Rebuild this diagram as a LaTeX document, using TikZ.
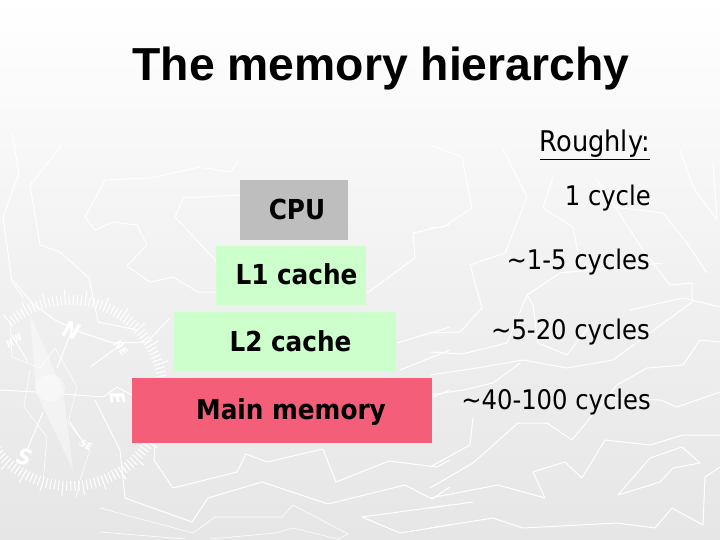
\documentclass[tikz,border=0pt]{standalone}
\usepackage{fontspec}
\setmainfont{DejaVu Sans Condensed}
\newfontfamily\titlefont{Liberation Sans}
\usetikzlibrary{calc,positioning}
\definecolor{cpugray}{HTML}{BEBEBE}
\definecolor{cachegreen}{HTML}{CCFFCC}
\definecolor{memred}{HTML}{F45E78}
\definecolor{bgbottom}{HTML}{E6E6E6}
\tikzset{
    level/.style={draw=none, minimum height=59pt, inner sep=0pt},
    levellabel/.style={font=\fontsize{27.5}{30}\bfseries, inner sep=0pt},
    timelabel/.style={font=\fontsize{27}{30}\selectfont, anchor=east, inner sep=0pt},
    wmline/.style={draw=white, line width=1pt, line join=round},
    wmtick/.style={draw=white, line width=1.1pt},
    wmtext/.style={text=white, font=\fontsize{#1}{#1}\bfseries\itshape, inner sep=0pt},
}
\begin{document}
\begin{tikzpicture}[x=1pt,y=-1pt]
        \useasboundingbox (0,0) rectangle (720,540);
        \shade[top color=white, bottom color=bgbottom, middle color=white!45!bgbottom] (0,0) rectangle (720,540);
        % background lines, left
        \draw[wmline] (12,133) -- (19,173) -- (3,217) -- (12,282) -- (23,297);
        \draw[wmline] (62,145) -- (30,185) -- (40,245) -- (60,252) -- (89,278) -- (98,322) -- (137,330);
        \draw[wmline] (240,160) -- (230,172) -- (200,167) -- (150,178) -- (105,180) -- (85,217) -- (95,230) -- (113,222) -- (137,225) -- (147,245) -- (127,266) -- (150,282) -- (173,277) -- (198,292) -- (217,292);
        \draw[wmline] (240,195) -- (183,198) -- (175,217) -- (217,262);
        \draw[wmline] (13,280) -- (32,303) -- (55,320) -- (80,332) -- (113,343) -- (147,342) -- (170,318);
        \draw[wmline, line width=.6pt] (10,320) -- (12,357) -- (40,368) -- (55,348) -- (77,387) -- (68,423) -- (90,450) -- (80,480) -- (76,498);
        \draw[wmline, line width=.6pt] (30,370) -- (24,407) -- (47,437) -- (43,483);
        \draw[wmline] (0,390) -- (35,392) (63,394) -- (103,397) -- (117,387) -- (132,395);
        \draw[wmline] (95,400) -- (120,450) -- (125,498) -- (192,522) -- (208,498) -- (262,482) -- (328,504) -- (405,485) -- (432,499) -- (450,487);
        \draw[wmline] (155,445) -- (154,460) -- (173,488) -- (237,472) -- (246,454) -- (267,462) -- (323,449) -- (336,482) -- (389,461) -- (437,467) -- (450,460);
        \draw[wmline, line width=.6pt] (100,508) -- (193,533) -- (215,517) -- (282,517) -- (293,505) -- (348,534) -- (337,540);
        \draw[wmline, line width=.6pt] (100,532) -- (185,539) (210,539) -- (275,533) -- (293,528) -- (337,539);
        \draw[wmline] (450,505) -- (362,517) -- (400,533) -- (450,525);
        % background lines, right
        \draw[wmline] (430,228) -- (443,227) -- (472,208) -- (462,157) -- (430,145);
        \draw[wmline] (502,147) -- (527,197) -- (505,253) -- (470,265) -- (482,308) -- (460,332) -- (430,333);
        \draw[wmline] (553,177) -- (543,208) -- (573,227) -- (580,262);
        \draw[wmline] (430,352) -- (462,354) -- (507,343) -- (527,295) -- (533,305) -- (538,343) -- (567,355) -- (590,325);
        \draw[wmline] (527,295) -- (560,273) -- (663,263);
        \draw[wmline] (430,375) -- (477,368) -- (523,360) -- (567,368) -- (613,360) -- (692,302) -- (692,283) -- (670,285) -- (643,250) -- (617,210) -- (597,180);
        \draw[wmline] (430,395) -- (463,390) -- (493,383) -- (520,363);
        \draw[wmline] (473,417) -- (470,445) -- (430,467);
        \draw[wmline] (430,498) -- (498,485) -- (545,498) -- (533,472) -- (565,462) -- (582,478) -- (605,440) -- (650,445) -- (683,435) -- (720,435);
        \draw[wmline] (430,488) -- (473,463) -- (518,423) -- (547,423) -- (572,440) -- (617,385) -- (647,368) -- (683,365) -- (700,340) -- (720,342);
        \draw[wmline] (618,495) -- (650,458) -- (682,447) -- (700,463) -- (673,468) -- (660,482) -- cycle;
        \draw[wmline] (430,528) -- (493,518) -- (523,528) -- (617,523) -- (655,528) -- (672,508) -- (703,525) -- (705,477) -- (720,467);
        \draw[wmline] (430,508) -- (473,502);
        \draw[wmline] (600,398) -- (660,400) -- (677,407) -- (720,392);
        \draw[wmline] (630,310) -- (683,298) -- (720,307);
        \draw[wmline] (713,163) -- (717,220) -- (693,187) -- (680,150);
        \draw[wmline] (707,273) -- (687,243) -- (663,213) -- (613,207);
        \draw[wmline] (450,225) -- (413,233) -- (415,258) -- (367,293);
        \draw[wmline] (397,343) -- (450,327);
        \draw[wmline] (400,370) -- (450,350);
        \draw[wmline] (433,397) -- (450,390);
        \draw[wmline, white!70!bgbottom] (190,170) -- (287,152);
        \draw[wmline, white!70!bgbottom] (333,155) -- (400,137) -- (483,157);
        % compass
        \foreach \a [count=\i] in {-142,-139.5,...,132} {
            \pgfmathsetmacro{\tip}{mod(\i,5)==0 ? 103 : 98}
            \draw[wmtick] ($(70,393)+(\a:88pt)$) -- ($(70,393)+(\a:\tip pt)$);
        }
        \fill[white, opacity=.4] (30,315) -- (63,390) -- (73,470) -- (36,392) -- cycle;
        \fill[white, opacity=.4] (50,388) ellipse (15pt and 13pt);
        \draw[wmline] (57,368) -- (72,330);
        \draw[wmline] (43,412) -- (27,450);
        \draw[wmline] (90,367) -- (125,342);
        \draw[wmline] (70,422) -- (85,445);
        \draw[wmline] (28,362) -- (12,335);
        \node[wmtext=22, rotate=-18] (n_mark) at (72,330) {N};
        \node[wmtext=22, rotate=-18] (s_mark) at (25,457) {S};
        \node[wmtext=20, rotate=-80] (e_mark) at (118,398) {E};
        \node[wmtext=10, rotate=35] (nw_mark) at (14,341) {NW};
        \node[wmtext=11, rotate=-50] (ne_mark) at (121,348) {NE};
        \node[wmtext=10, rotate=-25] (se_mark) at (86,445) {SE};
        % levels
        \node[level, fill=cpugray, minimum width=108pt, minimum height=60pt] (cpu) at (294,210) {};
        \node[level, fill=cachegreen, minimum width=150pt, below=6pt of cpu, xshift=-3pt] (l1) {};
        \node[level, fill=cachegreen, minimum width=222pt, below=6pt of l1, xshift=-6pt] (l2) {};
        \node[level, fill=memred, minimum width=300pt, minimum height=65pt, below=7pt of l2, xshift=-3pt] (mem) {};
        \node[levellabel] (cpu_t) at (297,209) {CPU};
        \node[levellabel] (l1_t) at (296.5,274) {L1 cache};
        \node[levellabel] (l2_t) at (290.5,341) {L2 cache};
        \node[levellabel] (mem_t) at (291,412) {Main memory};
        % text
        \node[font=\titlefont\fontsize{46.3}{50}\bfseries, inner sep=0pt] (title) at (381,69) {The memory hierarchy};
        \node[timelabel, font=\fontsize{28.5}{30}\selectfont] (roughly) at (650,145) {\underline{Roughly:}};
        \node[timelabel] (t_cpu) at (651,198) {1 cycle};
        \node[timelabel] (t_l1) at (650,262) {\textasciitilde1-5 cycles};
        \node[timelabel] (t_l2) at (650,332) {\textasciitilde5-20 cycles};
        \node[timelabel] (t_mem) at (651,402) {\textasciitilde40-100 cycles};
\end{tikzpicture}
\end{document}
